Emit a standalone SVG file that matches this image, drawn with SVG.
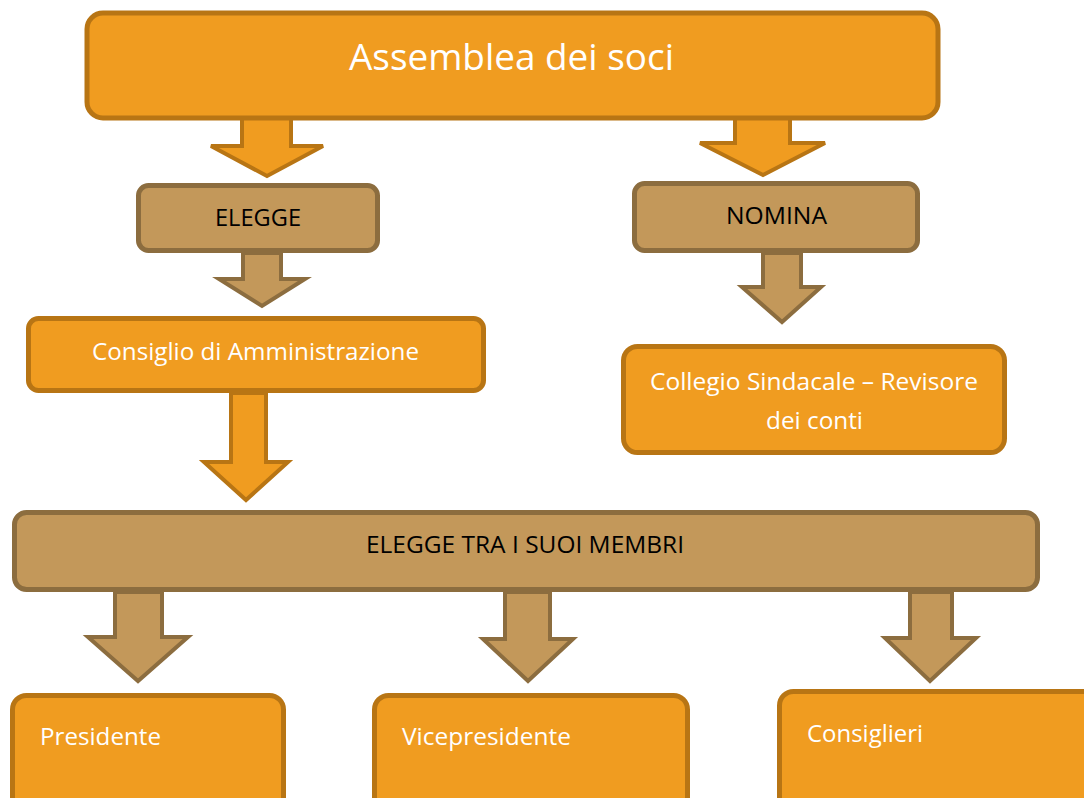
<svg xmlns="http://www.w3.org/2000/svg" width="1084" height="798" viewBox="0 0 1084 798">
<style>
.o{fill:#F09C20;stroke:#B87514;stroke-width:5}
.t{fill:#C3985A;stroke:#8C6D3F;stroke-width:5}
.ao{fill:#F09C20;stroke:#B87514;stroke-width:4;stroke-linejoin:miter}
.at{fill:#C3985A;stroke:#8C6D3F;stroke-width:4;stroke-linejoin:miter}
text{font-family:"Open Sans","Liberation Sans",sans-serif}
.w{fill:#FFFFFF}
.b{fill:#000000}
</style>
<rect width="1084" height="798" fill="#FFFFFF"/>
<g id="connectors">
<polygon class="ao" points="242,118 291,118 291,146 323,146 267,176 211,146 242,146"/>
<polygon class="ao" points="735,117 790,117 790,143 825,143 763,175 700,143 735,143"/>
<polygon class="at" points="243,253 281,253 281,279 305,279 262,306 219,279 243,279"/>
<polygon class="at" points="763,253 801,253 801,287 821,287 782,322 742,287 763,287"/>
<polygon class="ao" points="231,393 266,393 266,462 288,462 246,500 204,462 231,462"/>
<polygon class="at" points="115,592 162,592 162,637 188,637 138,681 88,637 115,637"/>
<polygon class="at" points="505,592 550,592 550,639 573,639 528,681 483,639 505,639"/>
<polygon class="at" points="910,592 952,592 952,638 976,638 930,681 885,638 910,638"/>
</g>
<g id="assemblea">
<rect class="o" x="87" y="13" width="851" height="105" rx="16"/>
<text class="w" x="349" y="70" font-size="37" textLength="325" lengthAdjust="spacingAndGlyphs">Assemblea dei soci</text>
</g>
<g id="elegge">
<rect class="t" x="138.5" y="185.5" width="239" height="65" rx="10"/>
<text class="b" x="215" y="226" font-size="23" textLength="86" lengthAdjust="spacingAndGlyphs">ELEGGE</text>
</g>
<g id="nomina">
<rect class="t" x="634.5" y="183.5" width="283" height="67" rx="10"/>
<text class="b" x="726" y="224" font-size="23" textLength="101" lengthAdjust="spacingAndGlyphs">NOMINA</text>
</g>
<g id="consiglio">
<rect class="o" x="28.5" y="318.5" width="455" height="72" rx="10"/>
<text class="w" x="92" y="360" font-size="24" textLength="327" lengthAdjust="spacingAndGlyphs">Consiglio di Amministrazione</text>
</g>
<g id="collegio">
<rect class="o" x="623.5" y="346.5" width="381" height="106" rx="14"/>
<text class="w" x="650" y="390" font-size="24" textLength="328" lengthAdjust="spacingAndGlyphs">Collegio Sindacale – Revisore</text>
<text class="w" x="766" y="429" font-size="24" textLength="97" lengthAdjust="spacingAndGlyphs">dei conti</text>
</g>
<g id="elegge-tra">
<rect class="t" x="14.5" y="512.5" width="1023" height="77" rx="12"/>
<text class="b" x="366" y="553" font-size="23" textLength="318" lengthAdjust="spacingAndGlyphs">ELEGGE TRA I SUOI MEMBRI</text>
</g>
<g id="presidente">
<rect class="o" x="12.5" y="695.5" width="271" height="120" rx="14"/>
<text class="w" x="40" y="745" font-size="24" textLength="121" lengthAdjust="spacingAndGlyphs">Presidente</text>
</g>
<g id="vicepresidente">
<rect class="o" x="374.5" y="695.5" width="313" height="120" rx="14"/>
<text class="w" x="402" y="745" font-size="24" textLength="169" lengthAdjust="spacingAndGlyphs">Vicepresidente</text>
</g>
<g id="consiglieri">
<rect class="o" x="779.5" y="691.5" width="320" height="120" rx="14"/>
<text class="w" x="807" y="742" font-size="24" textLength="116" lengthAdjust="spacingAndGlyphs">Consiglieri</text>
</g>
</svg>
